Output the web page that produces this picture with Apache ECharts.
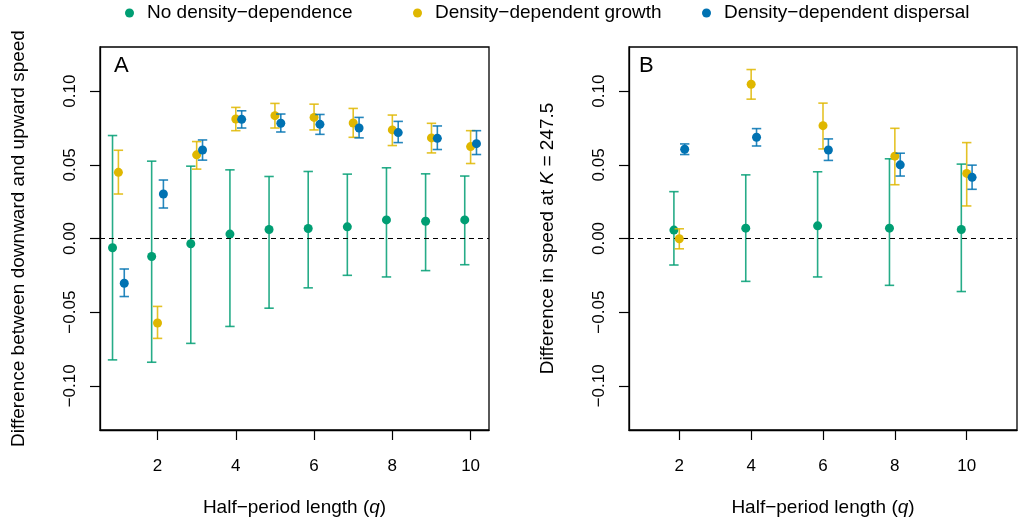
<!DOCTYPE html>
<html>
<head>
<meta charset="utf-8">
<script src="https://cdn.jsdelivr.net/npm/echarts@6/dist/echarts.min.js"></script>
<style>html,body{margin:0;padding:0;background:#fff;}#c{width:1019px;height:524px;}</style>
</head>
<body>
<div id="c"></div>
<script>
// ---- Data ----
const seriesNames = ['No density\u2212dependence', 'Density\u2212dependent growth', 'Density\u2212dependent dispersal'];
const xTicks = [2, 4, 6, 8, 10];
const yTicks = [-0.10, -0.05, 0.00, 0.05, 0.10];

// Panel A: q = 1..10
const qA = [1, 2, 3, 4, 5, 6, 7, 8, 9, 10];
const noDD_A      = [-0.0063, -0.0122, -0.0036, 0.0030, 0.0061, 0.0068, 0.0079, 0.0126, 0.0117, 0.0126];
const noDD_A_lo   = [-0.0824, -0.0840, -0.0712, -0.0597, -0.0473, -0.0335, -0.0250, -0.0261, -0.0218, -0.0178];
const noDD_A_hi   = [0.0699, 0.0525, 0.0491, 0.0466, 0.0421, 0.0455, 0.0437, 0.0480, 0.0439, 0.0424];
const growth_A    = [0.0449, -0.0574, 0.0568, 0.0811, 0.0834, 0.0822, 0.0784, 0.0737, 0.0683, 0.0624];
const growth_A_lo = [0.0302, -0.0678, 0.0471, 0.0732, 0.0750, 0.0737, 0.0687, 0.0631, 0.0581, 0.0509];
const growth_A_hi = [0.0599, -0.0461, 0.0658, 0.0890, 0.0917, 0.0912, 0.0883, 0.0838, 0.0782, 0.0732];
const disp_A      = [-0.0304, 0.0302, 0.0601, 0.0809, 0.0782, 0.0775, 0.0750, 0.0719, 0.0680, 0.0644];
const disp_A_lo   = [-0.0394, 0.0207, 0.0532, 0.0750, 0.0723, 0.0707, 0.0683, 0.0651, 0.0604, 0.0570];
const disp_A_hi   = [-0.0207, 0.0397, 0.0669, 0.0867, 0.0845, 0.0842, 0.0822, 0.0795, 0.0764, 0.0732];

// Panel B: q = 2,4,...,10
const qB = [2, 4, 6, 8, 10];
const noDD_B      = [0.0057, 0.0070, 0.0086, 0.0070, 0.0061];
const noDD_B_lo   = [-0.0180, -0.0291, -0.0261, -0.0318, -0.0360];
const noDD_B_hi   = [0.0318, 0.0432, 0.0453, 0.0541, 0.0505];
const growth_B    = [-0.0002, 0.1047, 0.0766, 0.0559, 0.0442];
const growth_B_lo = [-0.0070, 0.0946, 0.0608, 0.0365, 0.0221];
const growth_B_hi = [0.0066, 0.1147, 0.0919, 0.0748, 0.0651];
const disp_B      = [0.0606, 0.0687, 0.0601, 0.0500, 0.0415];
const disp_B_lo   = [0.0570, 0.0628, 0.0530, 0.0424, 0.0334];
const disp_B_hi   = [0.0642, 0.0746, 0.0676, 0.0579, 0.0498];

// ---- Style ----
const colors = ['#009E73', '#DFB700', '#0072B2'];
const dodge = [-0.15, 0, 0.15];
const FONT = '"Liberation Sans", Arial, Helvetica, sans-serif';

const chart = echarts.init(document.getElementById('c'), null, {renderer: 'canvas'});

function fmt(v) {
  const s = Math.abs(v).toFixed(2);
  return (v < -1e-9 ? '\u2212' : '') + s;
}

function errSeries(name, idx, q, lo, hi, gi) {
  const col = colors[idx];
  return {
    name: name, type: 'custom', xAxisIndex: gi, yAxisIndex: gi, silent: true, z: 2 + idx * 2,
    data: q.map((v, i) => [v + dodge[idx], lo[i], hi[i]]),
    encode: {x: 0, y: [1, 2]},
    itemStyle: {color: col},
    renderItem: function (params, api) {
      const x = api.value(0);
      const p1 = api.coord([x, api.value(1)]);
      const p2 = api.coord([x, api.value(2)]);
      const hw = 4.7;
      const st = {stroke: col, lineWidth: 1.6, opacity: 0.85};
      return {type: 'group', children: [
        {type: 'line', shape: {x1: p1[0], y1: p1[1], x2: p2[0], y2: p2[1]}, style: st},
        {type: 'line', shape: {x1: p1[0] - hw, y1: p1[1], x2: p1[0] + hw, y2: p1[1]}, style: st},
        {type: 'line', shape: {x1: p2[0] - hw, y1: p2[1], x2: p2[0] + hw, y2: p2[1]}, style: st}
      ]};
    }
  };
}
function ptSeries(name, idx, q, m, gi) {
  return {
    name: name, type: 'scatter', xAxisIndex: gi, yAxisIndex: gi, silent: true, z: 3 + idx * 2,
    symbol: 'circle', symbolSize: 9,
    itemStyle: {color: colors[idx], opacity: 1},
    data: q.map((v, i) => [v + dodge[idx], m[i]])
  };
}
function zeroLine(gi) {
  return {
    type: 'line', xAxisIndex: gi, yAxisIndex: gi, data: [], silent: true, z: 1,
    markLine: {
      silent: true, symbol: 'none', label: {show: false},
      lineStyle: {color: '#000', type: [5, 4], width: 1.2},
      data: [{yAxis: 0}]
    }
  };
}

const axisLineStyle = {show: true, onZero: false, lineStyle: {color: '#000', width: 1.3}};

function xAxis(gi, min, max) {
  return {
    type: 'value', gridIndex: gi, min: min, max: max,
    splitLine: {show: false}, axisLine: axisLineStyle,
    axisTick: {show: true, length: 10, lineStyle: {color: '#000', width: 1.2}, customValues: xTicks},
    axisLabel: {show: true, customValues: xTicks, margin: 28, color: '#000', fontSize: 17, fontFamily: FONT},
    name: '{n|Half\u2212period length (}{i|q}{n|)}',
    nameLocation: 'middle', nameGap: 68,
    nameTextStyle: {rich: {
      n: {fontSize: 19, fontFamily: FONT, color: '#000'},
      i: {fontSize: 19, fontFamily: FONT, color: '#000', fontStyle: 'italic'}
    }}
  };
}
function yAxis(gi, nameStr) {
  return {
    type: 'value', gridIndex: gi, min: -0.13, max: 0.13,
    splitLine: {show: false}, axisLine: axisLineStyle,
    axisTick: {show: true, length: 10, lineStyle: {color: '#000', width: 1.2}, customValues: yTicks},
    axisLabel: {show: true, customValues: yTicks, rotate: 90, margin: 21, color: '#000', fontSize: 17, fontFamily: FONT,
      formatter: fmt},
    name: nameStr, nameLocation: 'middle', nameGap: 72,
    nameTextStyle: {rich: {
      n: {fontSize: 19, fontFamily: FONT, color: '#000'},
      i: {fontSize: 19, fontFamily: FONT, color: '#000', fontStyle: 'italic'}
    }}
  };
}

const legendLefts = [125, 413, 702];
const legends = seriesNames.map((nm, i) => ({
  left: legendLefts[i], top: 3, padding: 0, orient: 'horizontal',
  icon: 'circle', itemWidth: 25, itemHeight: 9, selectedMode: false,
  textStyle: {fontSize: 19, fontFamily: FONT, color: '#000', lineHeight: 20},
  data: [nm]
}));

const option = {
  animation: false,
  backgroundColor: '#fff',
  title: [
    {text: 'A', left: 114, top: 55, padding: 0, textStyle: {fontSize: 22, fontWeight: 'normal', fontFamily: FONT, color: '#000'}},
    {text: 'B', left: 639, top: 55, padding: 0, textStyle: {fontSize: 22, fontWeight: 'normal', fontFamily: FONT, color: '#000'}}
  ],
  legend: legends,
  grid: [
    {left: 100, right: 530, top: 47, bottom: 94, show: true, borderColor: '#000', borderWidth: 1.3, backgroundColor: 'transparent'},
    {left: 629, right: 2, top: 47, bottom: 94, show: true, borderColor: '#000', borderWidth: 1.3, backgroundColor: 'transparent'}
  ],
  xAxis: [xAxis(0, 0.53, 10.47), xAxis(1, 0.6, 11.4)],
  yAxis: [
    yAxis(0, '{n|Difference between downward and upward speed}'),
    yAxis(1, '{n|Difference in speed at }{i|K}{n| = 247.5}')
  ],
  series: [
    zeroLine(0), zeroLine(1),
    errSeries(seriesNames[0], 0, qA, noDD_A_lo, noDD_A_hi, 0), ptSeries(seriesNames[0], 0, qA, noDD_A, 0),
    errSeries(seriesNames[1], 1, qA, growth_A_lo, growth_A_hi, 0), ptSeries(seriesNames[1], 1, qA, growth_A, 0),
    errSeries(seriesNames[2], 2, qA, disp_A_lo, disp_A_hi, 0), ptSeries(seriesNames[2], 2, qA, disp_A, 0),
    errSeries(seriesNames[0], 0, qB, noDD_B_lo, noDD_B_hi, 1), ptSeries(seriesNames[0], 0, qB, noDD_B, 1),
    errSeries(seriesNames[1], 1, qB, growth_B_lo, growth_B_hi, 1), ptSeries(seriesNames[1], 1, qB, growth_B, 1),
    errSeries(seriesNames[2], 2, qB, disp_B_lo, disp_B_hi, 1), ptSeries(seriesNames[2], 2, qB, disp_B, 1)
  ]
};
chart.setOption(option);
</script>
</body>
</html>
